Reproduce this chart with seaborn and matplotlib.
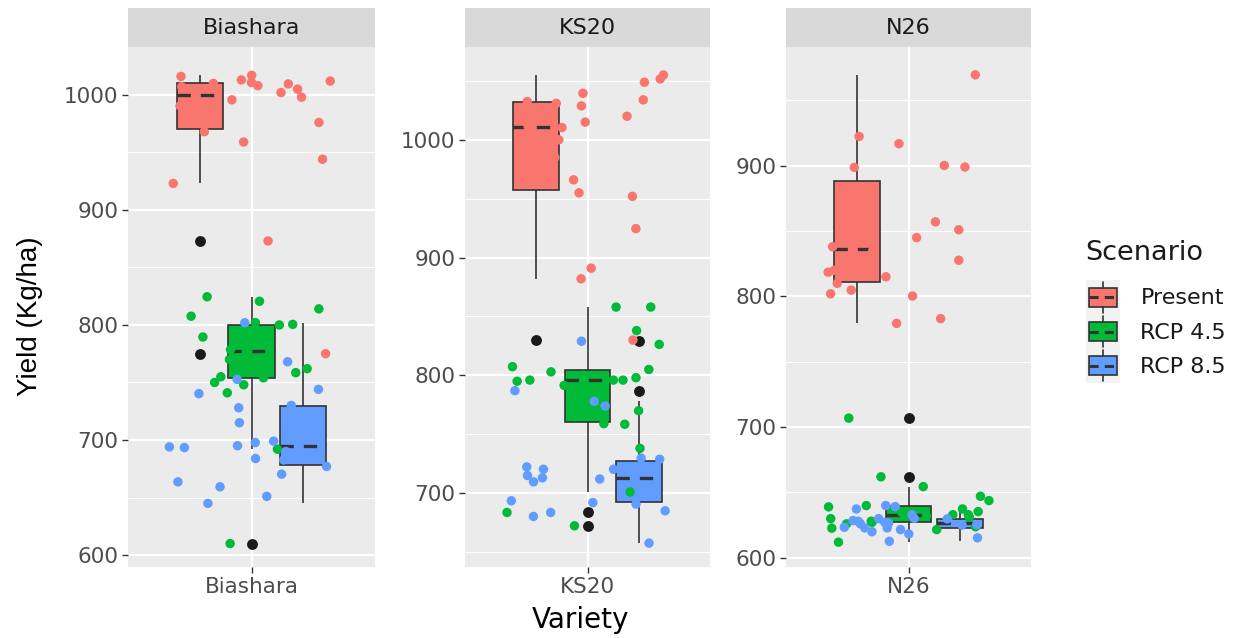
import numpy as np
import pandas as pd
import matplotlib
matplotlib.use("Agg")
import matplotlib.pyplot as plt
import seaborn as sns
from matplotlib.legend_handler import HandlerBase
from matplotlib.patches import Rectangle, Patch
from matplotlib.lines import Line2D
from matplotlib.ticker import MultipleLocator

# ---------------- data ----------------
varieties = ["Biashara", "KS20", "N26"]
scenarios = ["Present", "RCP 4.5", "RCP 8.5"]
colors = ["#F8766D", "#00BA38", "#619CFF"]

biashara_present = [1007, 1005, 1013, 1009.5, 1012, 1008, 1017, 1016, 1010, 1010.7,
                    1002, 998, 995.7, 990.5, 987, 976, 968, 959, 944, 923, 873, 775]
biashara_rcp45 = [824.5, 820.6, 814, 807.6, 802, 800.5, 800, 795, 789.5, 785, 778.5,
                  777, 770, 762, 758.5, 755, 754, 750, 748, 741, 692, 610]
biashara_rcp85 = [801.9, 768, 752.7, 744, 740.3, 730, 728, 715, 699, 697.8, 695, 694,
                  693.4, 690, 683.9, 682.7, 677, 670.3, 663.6, 659.3, 651, 644.9]

ks20_present = [1055, 1051.7, 1048.9, 1039.5, 1033.9, 1032.5, 1031, 1028.8, 1020, 1015,
                1011.3, 1010.4, 1000, 985, 975, 966, 955, 952, 924.6, 891, 882, 830]
ks20_rcp45 = [858, 858, 838, 826.3, 807.4, 805, 803, 800, 798, 796, 796, 796, 795,
              791.5, 770, 765, 759, 758.5, 738, 701, 683.6, 672.3]
ks20_rcp85 = [829, 787, 778, 774, 729.7, 728.8, 722.3, 720.3, 720.3, 715, 713, 712,
              709.6, 709, 704, 693.5, 692, 690.7, 685, 683.6, 680.2, 657.6]

n26_present = [969.5, 922.4, 916.8, 900.2, 899, 898.7, 857, 851, 845, 840.5, 838, 835,
               827.7, 820, 818.5, 815, 810, 804.8, 802, 800.3, 783, 779.4]
n26_rcp45 = [706.9, 662, 654.5, 647.1, 643.8, 640, 639, 637.4, 635.4, 634.9, 633, 633,
             632, 631, 630, 628, 627.2, 626, 623.8, 622.7, 621.6, 612]
n26_rcp85 = [640, 639.2, 637.4, 633, 630.2, 630, 629.8, 628.5, 628, 627.2, 626.7, 626,
             625.4, 625, 623.4, 622.9, 622.9, 621.6, 620, 618.3, 615.3, 612.7]

y_limits = {"Biashara": (589.6, 1041.6), "KS20": (637.3, 1078.8), "N26": (593, 990.8)}

series = {
    ("Biashara", "Present"): biashara_present,
    ("Biashara", "RCP 4.5"): biashara_rcp45,
    ("Biashara", "RCP 8.5"): biashara_rcp85,
    ("KS20", "Present"): ks20_present,
    ("KS20", "RCP 4.5"): ks20_rcp45,
    ("KS20", "RCP 8.5"): ks20_rcp85,
    ("N26", "Present"): n26_present,
    ("N26", "RCP 4.5"): n26_rcp45,
    ("N26", "RCP 8.5"): n26_rcp85,
}
rows = []
for (v, s), vals in series.items():
    for val in vals:
        rows.append({"Variety": v, "Scenario": s, "Yield": val})
df = pd.DataFrame(rows)

# ---------------- style ----------------
sns.set_style("darkgrid", rc={"axes.facecolor": "#EBEBEB", "grid.color": "white"})
plt.rcParams["font.family"] = ["DejaVu Sans"]

W, H = 1246, 638
fig = plt.figure(figsize=(W / 100, H / 100), dpi=100, facecolor="white")

panel_left = [128, 465, 786]
panel_w = [247, 245, 245]
panel_top, panel_bot = 47, 567
strip_top = 8

np.random.seed(7)
palette = dict(zip(scenarios, colors))

for i, v in enumerate(varieties):
    l = panel_left[i] / W
    b = (H - panel_bot) / H
    w = panel_w[i] / W
    h = (panel_bot - panel_top) / H
    ax = fig.add_axes([l, b, w, h])
    sub = df[df["Variety"] == v]
    sns.boxplot(data=sub, x="Variety", y="Yield", hue="Scenario", hue_order=scenarios,
                palette=palette, width=0.75, gap=0.1, linecolor="#333333", linewidth=1.2,
                showcaps=False, fliersize=6.8, saturation=1, legend=False, ax=ax,
                flierprops=dict(marker="o", markerfacecolor="#1A1A1A",
                                markeredgecolor="#1A1A1A"),
                medianprops=dict(linestyle=(0, (4, 3)), linewidth=2.4))
    sns.stripplot(data=sub, x="Variety", y="Yield", hue="Scenario", hue_order=scenarios,
                  palette=palette, jitter=0.4, dodge=False, size=6.8, linewidth=0,
                  legend=False, ax=ax, zorder=4)
    ax.set_xlim(-0.6, 0.6)
    ax.set_ylim(*y_limits[v])
    ax.yaxis.set_major_locator(MultipleLocator(100))
    ax.yaxis.set_minor_locator(MultipleLocator(50))
    ax.grid(True, which="major", color="white", linewidth=1.6)
    ax.grid(True, which="minor", axis="y", color="white", linewidth=0.8)
    ax.set_axisbelow(True)
    for sp in ax.spines.values():
        sp.set_visible(False)
    ax.set_xlabel("")
    ax.set_ylabel("")
    ax.tick_params(axis="both", which="major", labelsize=15.5, labelcolor="#4D4D4D",
                   color="#333333", length=4, width=1, pad=3, left=True, bottom=True)
    ax.tick_params(axis="y", which="minor", length=0)

    # facet strip
    sax = fig.add_axes([l, (H - panel_top) / H, w, (panel_top - strip_top) / H])
    sax.set_facecolor("#D9D9D9")
    sax.set_xticks([])
    sax.set_yticks([])
    sax.grid(False)
    for sp in sax.spines.values():
        sp.set_visible(False)
    sax.text(0.5, 0.48, v, ha="center", va="center", fontsize=16, color="#1A1A1A",
             transform=sax.transAxes)

fig.text(30 / W, 1 - 316 / H, "Yield (Kg/ha)", rotation=90, ha="center", va="center",
         fontsize=20, color="black", family=["Liberation Sans", "DejaVu Sans"])
fig.text(580 / W, 1 - 620 / H, "Variety", ha="center", va="center", fontsize=20,
         color="black")


class BoxKeyHandler(HandlerBase):
    def create_artists(self, legend, orig_handle, xdescent, ydescent, width, height,
                       fontsize, trans):
        x0, y0 = -xdescent, -ydescent
        fc = orig_handle.get_facecolor()
        bg = Rectangle((x0, y0), width, height, facecolor="#F2F2F2", edgecolor="none",
                       transform=trans)
        bx0, bx1 = x0 + 0.1 * width, x0 + 0.9 * width
        by0, by1 = y0 + 0.22 * height, y0 + 0.78 * height
        box = Rectangle((bx0, by0), bx1 - bx0, by1 - by0, facecolor=fc,
                        edgecolor="#333333", linewidth=1.2, transform=trans)
        xm = x0 + width / 2
        w1 = Line2D([xm, xm], [by1, y0 + 0.95 * height], color="#333333", lw=1.2,
                    transform=trans)
        w2 = Line2D([xm, xm], [y0 + 0.05 * height, by0], color="#333333", lw=1.2,
                    transform=trans)
        ym = y0 + 0.5 * height
        med = Line2D([bx0, bx1], [ym, ym], color="#333333", lw=2.2,
                     linestyle=(0, (3, 2)), transform=trans)
        return [bg, box, w1, w2, med]


fig.text(1085 / W, 1 - 253 / H, "Scenario", ha="left", va="center", fontsize=19.5,
         color="#1A1A1A")
handles = [Patch(facecolor=c, edgecolor="#333333") for c in colors]
leg = fig.legend(handles, scenarios, handler_map={Patch: BoxKeyHandler()},
                 loc="upper left", bbox_to_anchor=(1086 / W, 1 - 280 / H),
                 frameon=False, fontsize=16, handlelength=1.55, handleheight=2.0,
                 labelspacing=0.0, handletextpad=0.9, borderpad=0, borderaxespad=0)
for t in leg.get_texts():
    t.set_color("#1A1A1A")

fig.savefig("out.png", dpi=100, facecolor="white")
